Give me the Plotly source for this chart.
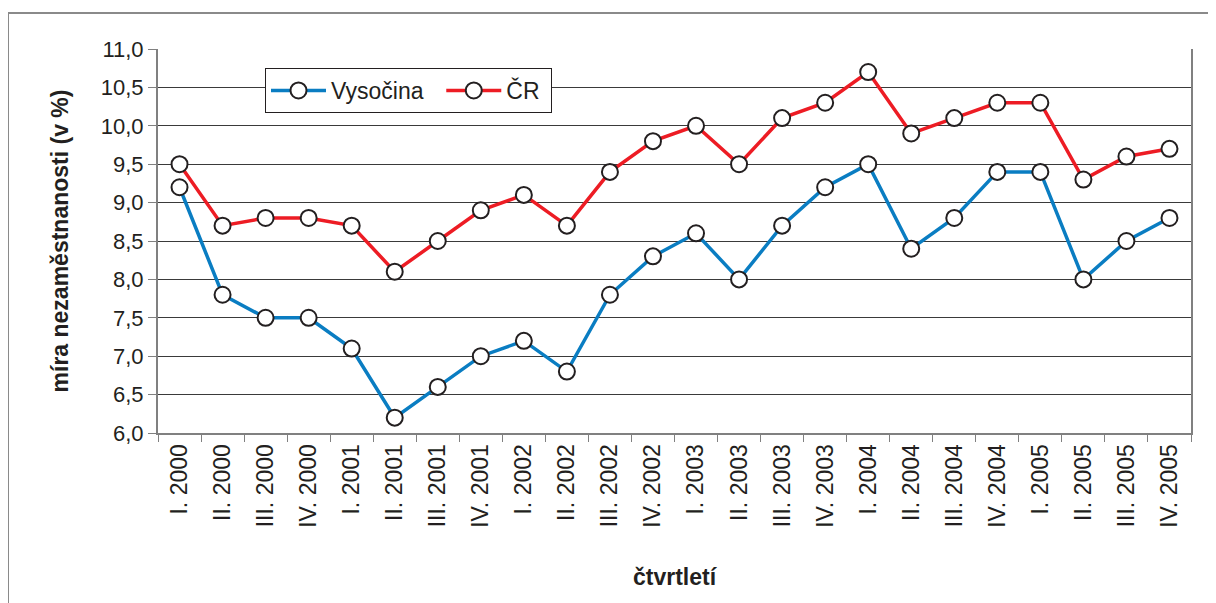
import plotly.graph_objects as go

quarters = ["I. 2000","II. 2000","III. 2000","IV. 2000",
            "I. 2001","II. 2001","III. 2001","IV. 2001",
            "I. 2002","II. 2002","III. 2002","IV. 2002",
            "I. 2003","II. 2003","III. 2003","IV. 2003",
            "I. 2004","II. 2004","III. 2004","IV. 2004",
            "I. 2005","II. 2005","III. 2005","IV. 2005"]
vysocina = [9.2, 7.8, 7.5, 7.5, 7.1, 6.2, 6.6, 7.0, 7.2, 6.8, 7.8, 8.3,
            8.6, 8.0, 8.7, 9.2, 9.5, 8.4, 8.8, 9.4, 9.4, 8.0, 8.5, 8.8]
cr = [9.5, 8.7, 8.8, 8.8, 8.7, 8.1, 8.5, 8.9, 9.1, 8.7, 9.4, 9.8,
      10.0, 9.5, 10.1, 10.3, 10.7, 9.9, 10.1, 10.3, 10.3, 9.3, 9.6, 9.7]
y_ticks = [6.0, 6.5, 7.0, 7.5, 8.0, 8.5, 9.0, 9.5, 10.0, 10.5, 11.0]

FONT = "Liberation Sans, Arial, sans-serif"
TXT = "#231F20"
marker = dict(symbol="circle", size=16, color="white",
              line=dict(color=TXT, width=2))

fig = go.Figure()
fig.add_trace(go.Scatter(x=quarters, y=vysocina, name="Vysočina\u00a0\u00a0",
                         mode="lines+markers",
                         line=dict(color="#0A7DC2", width=3.5),
                         marker=marker))
fig.add_trace(go.Scatter(x=quarters, y=cr, name="ČR\u00a0",
                         mode="lines+markers",
                         line=dict(color="#ED1C24", width=3.5),
                         marker=marker))

OFF = 8                      # page body margin
FW, FH = 1216 - OFF, 603 - OFF
L, T, W, H = 158, 49, 1033, 384   # plot area in screen pixels
fig.update_layout(
    width=FW, height=FH,
    margin=dict(l=L - OFF, r=FW - (L - OFF) - W, t=T - OFF, b=FH - (T - OFF) - H),
    paper_bgcolor="white", plot_bgcolor="white",
    separators=", ",
    font=dict(family=FONT, size=22, color=TXT),
    showlegend=True,
    legend=dict(orientation="h", x=(265 - L) / W, y=(T + H - 68) / H,
                xanchor="left", yanchor="top",
                bgcolor="white", bordercolor=TXT, borderwidth=1,
                font=dict(family=FONT, size=23, color=TXT),
                itemwidth=55, tracegroupgap=0),
    xaxis=dict(type="category", range=[-0.5, len(quarters) - 0.5],
               tickson="boundaries", ticks="outside",
               ticklen=7, tickcolor="#808080", tickwidth=1,
               showline=True, linecolor="#808080", linewidth=2,
               showgrid=False, tickangle=-90,
               tickfont=dict(family=FONT, size=23, color=TXT),
               title=dict(text="<b>čtvrtletí</b>", standoff=42,
                          font=dict(family=FONT, size=23, color=TXT))),
    yaxis=dict(range=[6, 11], tickvals=y_ticks, tickformat=".1f",
               ticks="outside", ticklen=8, tickcolor="#808080",
               showline=True, linecolor="#808080", linewidth=2, mirror=True,
               showgrid=True, gridcolor="#3a3a3a", gridwidth=1,
               zeroline=False,
               tickfont=dict(family=FONT, size=22, color=TXT),
               title=dict(text="<b>míra nezaměstnanosti (v %)</b>", standoff=26,
                          font=dict(family=FONT, size=23, color=TXT))),
)

# outer chart frame
fig.add_shape(type="rect", xref="paper", yref="paper",
              x0=(8 - L) / W, x1=(1240 - L) / W,
              y0=(T + H - 640) / H, y1=(T + H - 13) / H,
              line=dict(color="#8a8a8a", width=2), fillcolor="rgba(0,0,0,0)",
              layer="below")

fig.write_html("out.html")
